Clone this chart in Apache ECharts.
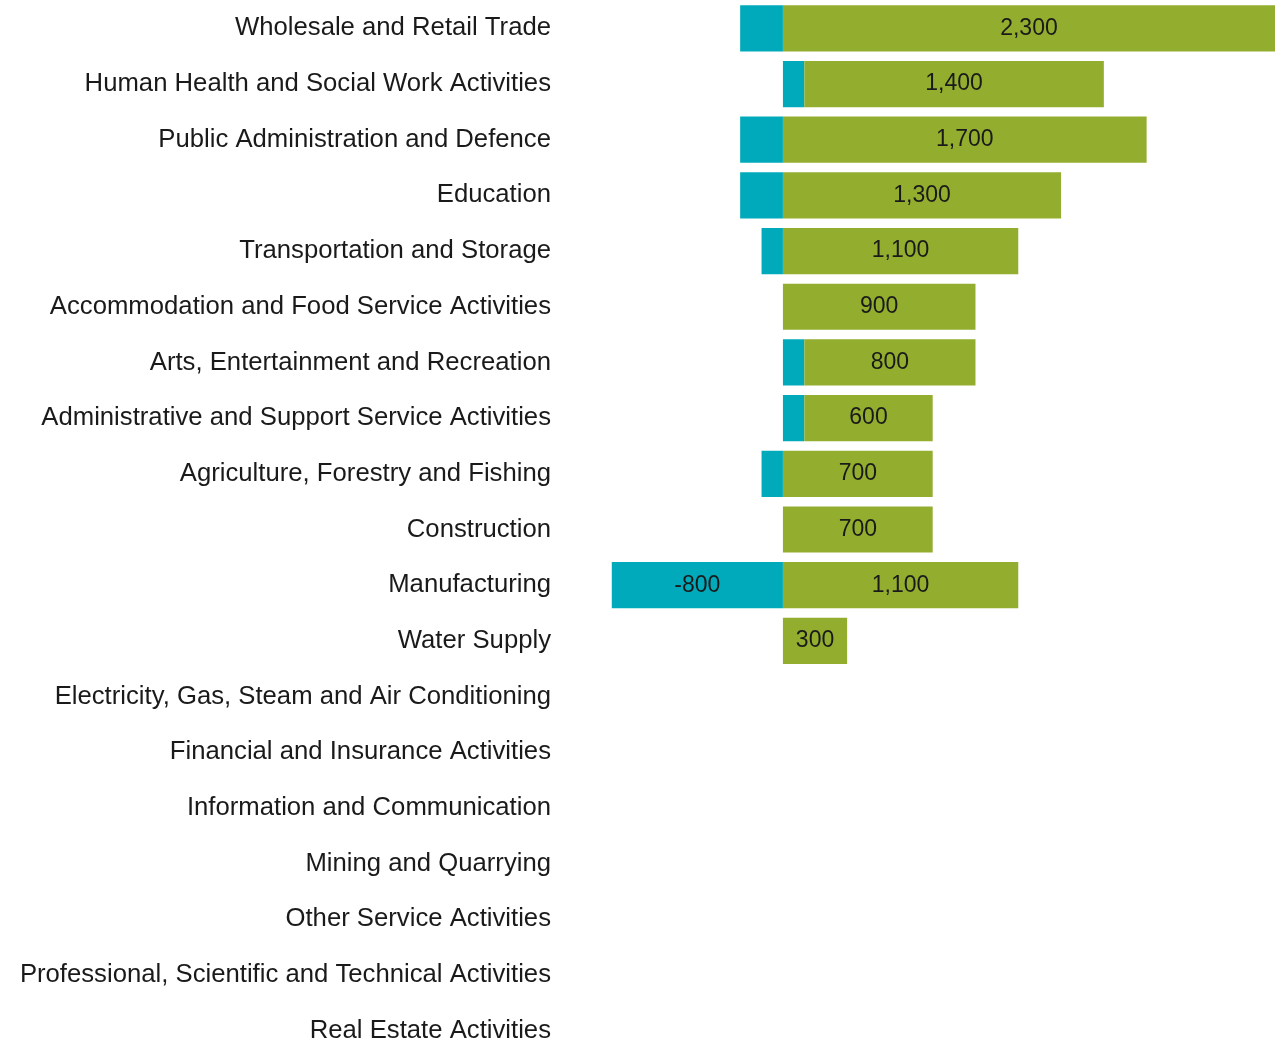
<!DOCTYPE html>
<html>
<head>
<meta charset="utf-8">
<script src="https://cdn.jsdelivr.net/npm/echarts@6/dist/echarts.min.js"></script>
<style>
  html, body { margin: 0; padding: 0; background: #fff; overflow: hidden; }
  #main { width: 1281px; height: 1060px; }
</style>
</head>
<body>
<div id="main"></div>
<script>
// 行业类别，从上到下
var categories = [
  'Wholesale and Retail Trade',
  'Human Health and Social Work Activities',
  'Public Administration and Defence',
  'Education',
  'Transportation and Storage',
  'Accommodation and Food Service Activities',
  'Arts, Entertainment and Recreation',
  'Administrative and Support Service Activities',
  'Agriculture, Forestry and Fishing',
  'Construction',
  'Manufacturing',
  'Water Supply',
  'Electricity, Gas, Steam and Air Conditioning',
  'Financial and Insurance Activities',
  'Information and Communication',
  'Mining and Quarrying',
  'Other Service Activities',
  'Professional, Scientific and Technical Activities',
  'Real Estate Activities'
];
// 蓝色部分（变化）
var tealValues = [-200, 100, -200, -200, -100, 0, 100, 100, -100, 0, -800, 0, 0, 0, 0, 0, 0, 0, 0];
// 绿色部分
var greenValues = [2300, 1400, 1700, 1300, 1100, 900, 800, 600, 700, 700, 1100, 300, 0, 0, 0, 0, 0, 0, 0];

var FONT = "'Liberation Sans', Arial, sans-serif";

var chart = echarts.init(document.getElementById('main'));

// 太小的数值不显示标签
function fmt(p) {
  if (Math.abs(p.value) < 300) return '';
  return p.value.toLocaleString('en-US');
}

var labelStyle = {
  show: true,
  position: 'inside',
  formatter: fmt,
  color: '#1a1a1a',
  fontSize: 23,
  fontFamily: FONT
};

var option = {
  animation: false,
  grid: { left: 569, right: 6, top: 0.5, height: 1058, containLabel: false },
  xAxis: {
    type: 'value',
    min: -1000,
    max: 2300,
    show: false
  },
  yAxis: {
    type: 'category',
    inverse: true,
    data: categories,
    axisLine: { show: false },
    axisTick: { show: false },
    axisLabel: {
      margin: 18,
      color: '#1a1a1a',
      fontSize: 25.7,
      fontFamily: FONT
    }
  },
  series: [{
    name: 'change',
    type: 'bar',
    stack: 'total',
    barCategoryGap: '17%',
    itemStyle: { color: '#00AABB' },
    label: labelStyle,
    data: tealValues
  }, {
    name: 'value',
    type: 'bar',
    stack: 'total',
    barCategoryGap: '17%',
    itemStyle: { color: '#93AE2F' },
    label: labelStyle,
    data: greenValues
  }]
};
chart.setOption(option);
</script>
</body>
</html>
